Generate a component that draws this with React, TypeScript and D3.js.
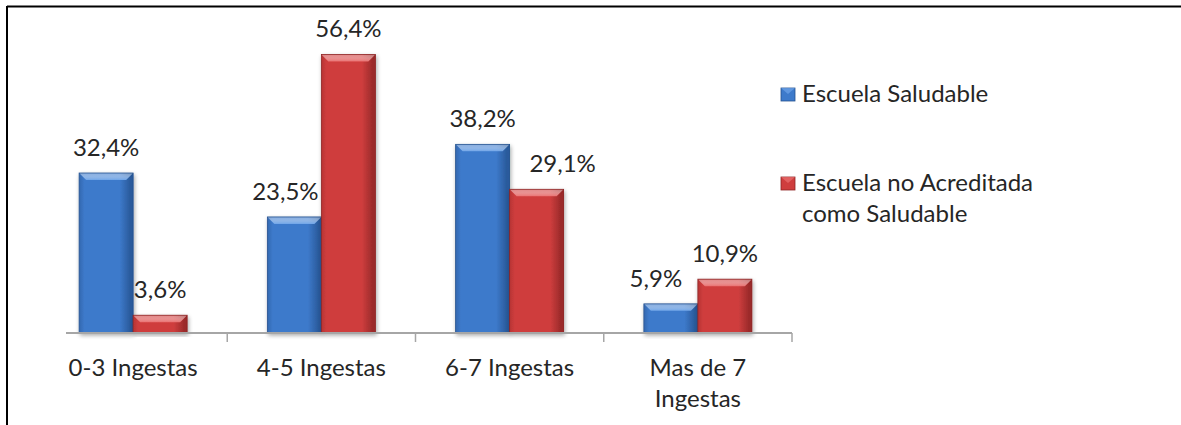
import React from "react";
import * as d3 from "d3";

const categories: string[][] = [["0-3 Ingestas"], ["4-5 Ingestas"], ["6-7 Ingestas"], ["Mas de 7", "Ingestas"]];
const seriesNames: string[] = ["Escuela Saludable", "Escuela no Acreditada como Saludable"];
const legendLines: string[][] = [["Escuela Saludable"], ["Escuela no Acreditada", "como Saludable"]];
const saludable: number[] = [32.4, 23.5, 38.2, 5.9];
const noAcreditada: number[] = [3.6, 56.4, 29.1, 10.9];
const labelTexts: string[][] = [
  ["32,4%", "23,5%", "38,2%", "5,9%"],
  ["3,6%", "56,4%", "29,1%", "10,9%"],
];
// horizontal nudges of data labels (avoid overlap, as in reference)
const labelNudge: number[][] = [
  [0, -9, 0, -15],
  [0, 0, 26, 0],
];

const W = 1181;
const H = 425;
const FONT = "Lato, 'Open Sans', sans-serif";
const FS = 24;

export default function App() {
  const x0 = d3.scaleBand<number>().domain(d3.range(categories.length)).range([39, 792]).padding(0);
  const x1 = d3.scaleBand<number>().domain([0, 1]).range([0, 108]);
  const groupOffset = (x0.bandwidth() - 108) / 2;
  const y = d3.scaleLinear().domain([0, 60]).range([333, 36.7]);
  const series = [saludable, noAcreditada];
  const grads = [
    { id: "gBlue", edge: "#3468b0", mid: "#3d7acb", dark: "#25528f", top: "#6ea4e8", side: "#2a5b9e" },
    { id: "gRed", edge: "#b83434", mid: "#cf3e3e", dark: "#8e2525", top: "#ea7070", side: "#9c2a2a" },
  ];
  const ticks = d3.range(categories.length + 1).map((i) => (i < categories.length ? x0(i)! : x0.range()[1]));

  return (
    <svg width={W} height={H} style={{ position: "absolute", left: 0, top: 0, display: "block", background: "#fff" }}>
      <defs>
        {grads.map((g) => (
          <linearGradient key={g.id} id={g.id} x1="0" x2="1" y1="0" y2="0">
            <stop offset="0" stopColor={g.edge} />
            <stop offset="0.1" stopColor={g.mid} />
            <stop offset="0.75" stopColor={g.mid} />
            <stop offset="1" stopColor={g.dark} />
          </linearGradient>
        ))}
        {grads.map((g) => (
          <linearGradient key={g.id + "t"} id={g.id + "t"} x1="0" x2="0" y1="0" y2="1">
            <stop offset="0" stopColor="#fff" stopOpacity={0.35} />
            <stop offset="1" stopColor={g.top} stopOpacity={1} />
          </linearGradient>
        ))}
        <filter id="shadow" x="-20%" y="-20%" width="140%" height="140%">
          <feGaussianBlur in="SourceAlpha" stdDeviation="2" />
          <feOffset dx="1" dy="2" result="b" />
          <feComponentTransfer><feFuncA type="linear" slope="0.35" /></feComponentTransfer>
          <feMerge><feMergeNode /><feMergeNode in="SourceGraphic" /></feMerge>
        </filter>
      </defs>

      {/* frame */}
      <line x1={7} y1={6.5} x2={W} y2={6.5} stroke="#000" strokeWidth={2} />
      <line x1={7} y1={6} x2={7} y2={H} stroke="#000" strokeWidth={2} />

      {/* bars */}
      {series.map((vals, s) =>
        vals.map((v, i) => {
          const bx = x0(i)! + groupOffset + x1(s)!;
          const bw = x1.bandwidth();
          const by = y(v);
          const bh = y(0) - by;
          const g = grads[s];
          const bev = Math.min(7, bh / 2);
          return (
            <g key={`b${s}-${i}`} filter="url(#shadow)">
              <rect x={bx} y={by} width={bw} height={bh} fill={`url(#${g.id})`} />
              <polygon
                points={`${bx},${by} ${bx + bw},${by} ${bx + bw - bev},${by + bev} ${bx + bev},${by + bev}`}
                fill={`url(#${g.id}t)`}
              />
              <polygon
                points={`${bx + bw},${by} ${bx + bw},${by + bh} ${bx + bw - 3},${by + bh} ${bx + bw - 3},${by + bev}`}
                fill={g.side}
                opacity={0.8}
              />
              <rect x={bx} y={by} width={bw} height={bh} fill="none" stroke={g.dark} strokeWidth={0.8} />
            </g>
          );
        })
      )}

      {/* axis */}
      <line x1={66} y1={333} x2={792} y2={333} stroke="#a6a6a6" strokeWidth={2} />
      {ticks.slice(1).map((t, i) => (
        <line key={`t${i}`} x1={t} x2={t} y1={333} y2={342} stroke="#a6a6a6" strokeWidth={1.5} />
      ))}

      {/* category labels */}
      {categories.map((lines, i) => (
        <text key={`c${i}`} x={x0(i)! + x0.bandwidth() / 2} y={376} textAnchor="middle" fontFamily={FONT} fontSize={FS} fill="#262626">
          {lines.map((l, k) => (
            <tspan key={k} x={x0(i)! + x0.bandwidth() / 2} dy={k === 0 ? 0 : 31}>{l}</tspan>
          ))}
        </text>
      ))}

      {/* value labels */}
      {series.map((vals, s) =>
        vals.map((v, i) => (
          <text
            key={`l${s}-${i}`}
            x={x0(i)! + groupOffset + x1(s)! + x1.bandwidth() / 2 + labelNudge[s][i]}
            y={y(v) - 17}
            textAnchor="middle"
            fontFamily={FONT}
            fontSize={FS}
            fill="#262626"
          >
            {labelTexts[s][i]}
          </text>
        ))
      )}

      {/* legend */}
      {seriesNames.map((name, s) => {
        const ly = s === 0 ? 88 : 177;
        const g = grads[s];
        return (
          <g key={`lg${s}`} aria-label={name}>
            <rect x={781} y={ly} width={14} height={13} fill={g.mid} stroke={g.dark} strokeWidth={0.8} />
            <polygon points={`${781},${ly} ${795},${ly} ${788},${ly + 6}`} fill={g.top} opacity={0.7} />
            <text x={802} y={ly + 14} fontFamily={FONT} fontSize={FS} fill="#262626">
              {legendLines[s].map((l, k) => (
                <tspan key={k} x={802} dy={k === 0 ? 0 : 31}>{l}</tspan>
              ))}
            </text>
          </g>
        );
      })}
    </svg>
  );
}
